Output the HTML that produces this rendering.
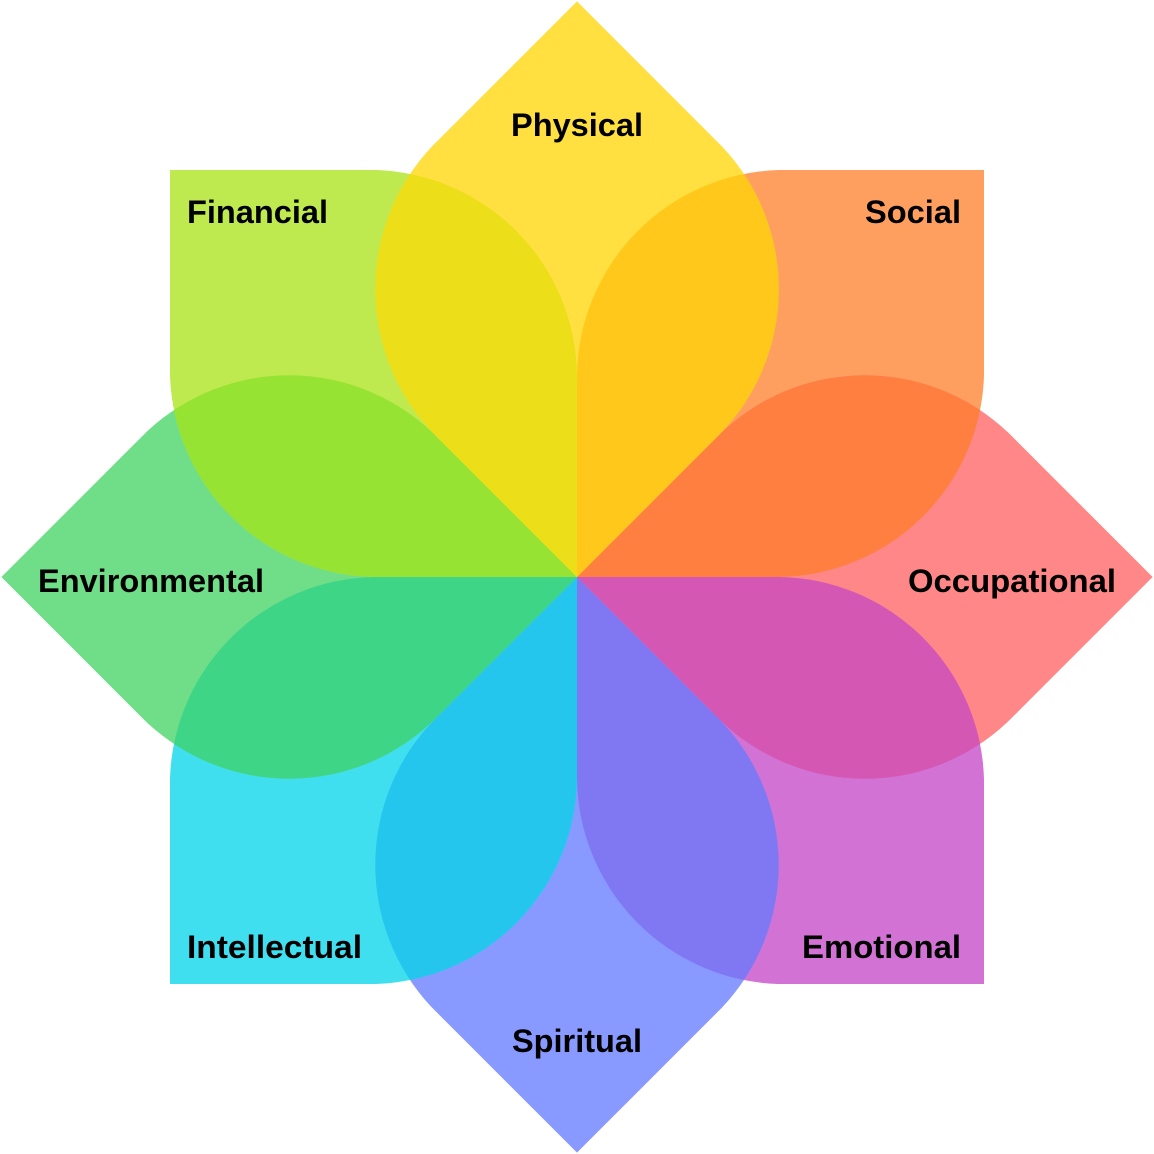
<!DOCTYPE html>
<html><head><meta charset="utf-8"><style>
html,body{margin:0;padding:0;background:#fff;}
svg{display:block}
text{font-family:"Liberation Sans",sans-serif;font-weight:bold;font-size:32px;fill:#000;}
</style></head><body>
<svg width="1154" height="1154" viewBox="0 0 1154 1154" xmlns="http://www.w3.org/2000/svg">
<defs>
<path id="p" d="M577,577 L577,376 A208,208 0 0 1 779,170 L984,170 L984,376 A208,208 0 0 1 779,577 Z"/>
<clipPath id="c0"><use href="#p" transform="rotate(0 577 577)"/></clipPath>
<clipPath id="c1"><use href="#p" transform="rotate(45 577 577)"/></clipPath>
<clipPath id="c2"><use href="#p" transform="rotate(90 577 577)"/></clipPath>
<clipPath id="c3"><use href="#p" transform="rotate(135 577 577)"/></clipPath>
<clipPath id="c4"><use href="#p" transform="rotate(180 577 577)"/></clipPath>
<clipPath id="c5"><use href="#p" transform="rotate(225 577 577)"/></clipPath>
<clipPath id="c6"><use href="#p" transform="rotate(270 577 577)"/></clipPath>
<clipPath id="c7"><use href="#p" transform="rotate(315 577 577)"/></clipPath>
</defs>
<use href="#p" transform="rotate(0 577 577)" fill="#FF9F5F"/>
<use href="#p" transform="rotate(45 577 577)" fill="#FF8787"/>
<use href="#p" transform="rotate(90 577 577)" fill="#D272D4"/>
<use href="#p" transform="rotate(135 577 577)" fill="#8899FF"/>
<use href="#p" transform="rotate(180 577 577)" fill="#40DFEF"/>
<use href="#p" transform="rotate(225 577 577)" fill="#70DD88"/>
<use href="#p" transform="rotate(270 577 577)" fill="#BFEA4F"/>
<use href="#p" transform="rotate(315 577 577)" fill="#FFE040"/>
<g clip-path="url(#c0)"><use href="#p" transform="rotate(45 577 577)" fill="#FF7F40"/></g>
<g clip-path="url(#c1)"><use href="#p" transform="rotate(90 577 577)" fill="#D457B4"/></g>
<g clip-path="url(#c2)"><use href="#p" transform="rotate(135 577 577)" fill="#8077F2"/></g>
<g clip-path="url(#c3)"><use href="#p" transform="rotate(180 577 577)" fill="#24C6EE"/></g>
<g clip-path="url(#c4)"><use href="#p" transform="rotate(225 577 577)" fill="#3ED686"/></g>
<g clip-path="url(#c5)"><use href="#p" transform="rotate(270 577 577)" fill="#96E333"/></g>
<g clip-path="url(#c6)"><use href="#p" transform="rotate(315 577 577)" fill="#ECDE18"/></g>
<g clip-path="url(#c7)"><use href="#p" transform="rotate(0 577 577)" fill="#FFC81A"/></g>
<text x="511" y="136" textLength="132" lengthAdjust="spacingAndGlyphs">Physical</text>
<text x="865" y="223" textLength="96" lengthAdjust="spacingAndGlyphs">Social</text>
<text x="187" y="223" textLength="141" lengthAdjust="spacingAndGlyphs">Financial</text>
<text x="908" y="592" textLength="208" lengthAdjust="spacingAndGlyphs">Occupational</text>
<text x="38" y="592" textLength="226" lengthAdjust="spacingAndGlyphs">Environmental</text>
<text x="187" y="958" textLength="175" lengthAdjust="spacingAndGlyphs">Intellectual</text>
<text x="802" y="958" textLength="159" lengthAdjust="spacingAndGlyphs">Emotional</text>
<text x="512" y="1052" textLength="130" lengthAdjust="spacingAndGlyphs">Spiritual</text>
</svg>
</body></html>
